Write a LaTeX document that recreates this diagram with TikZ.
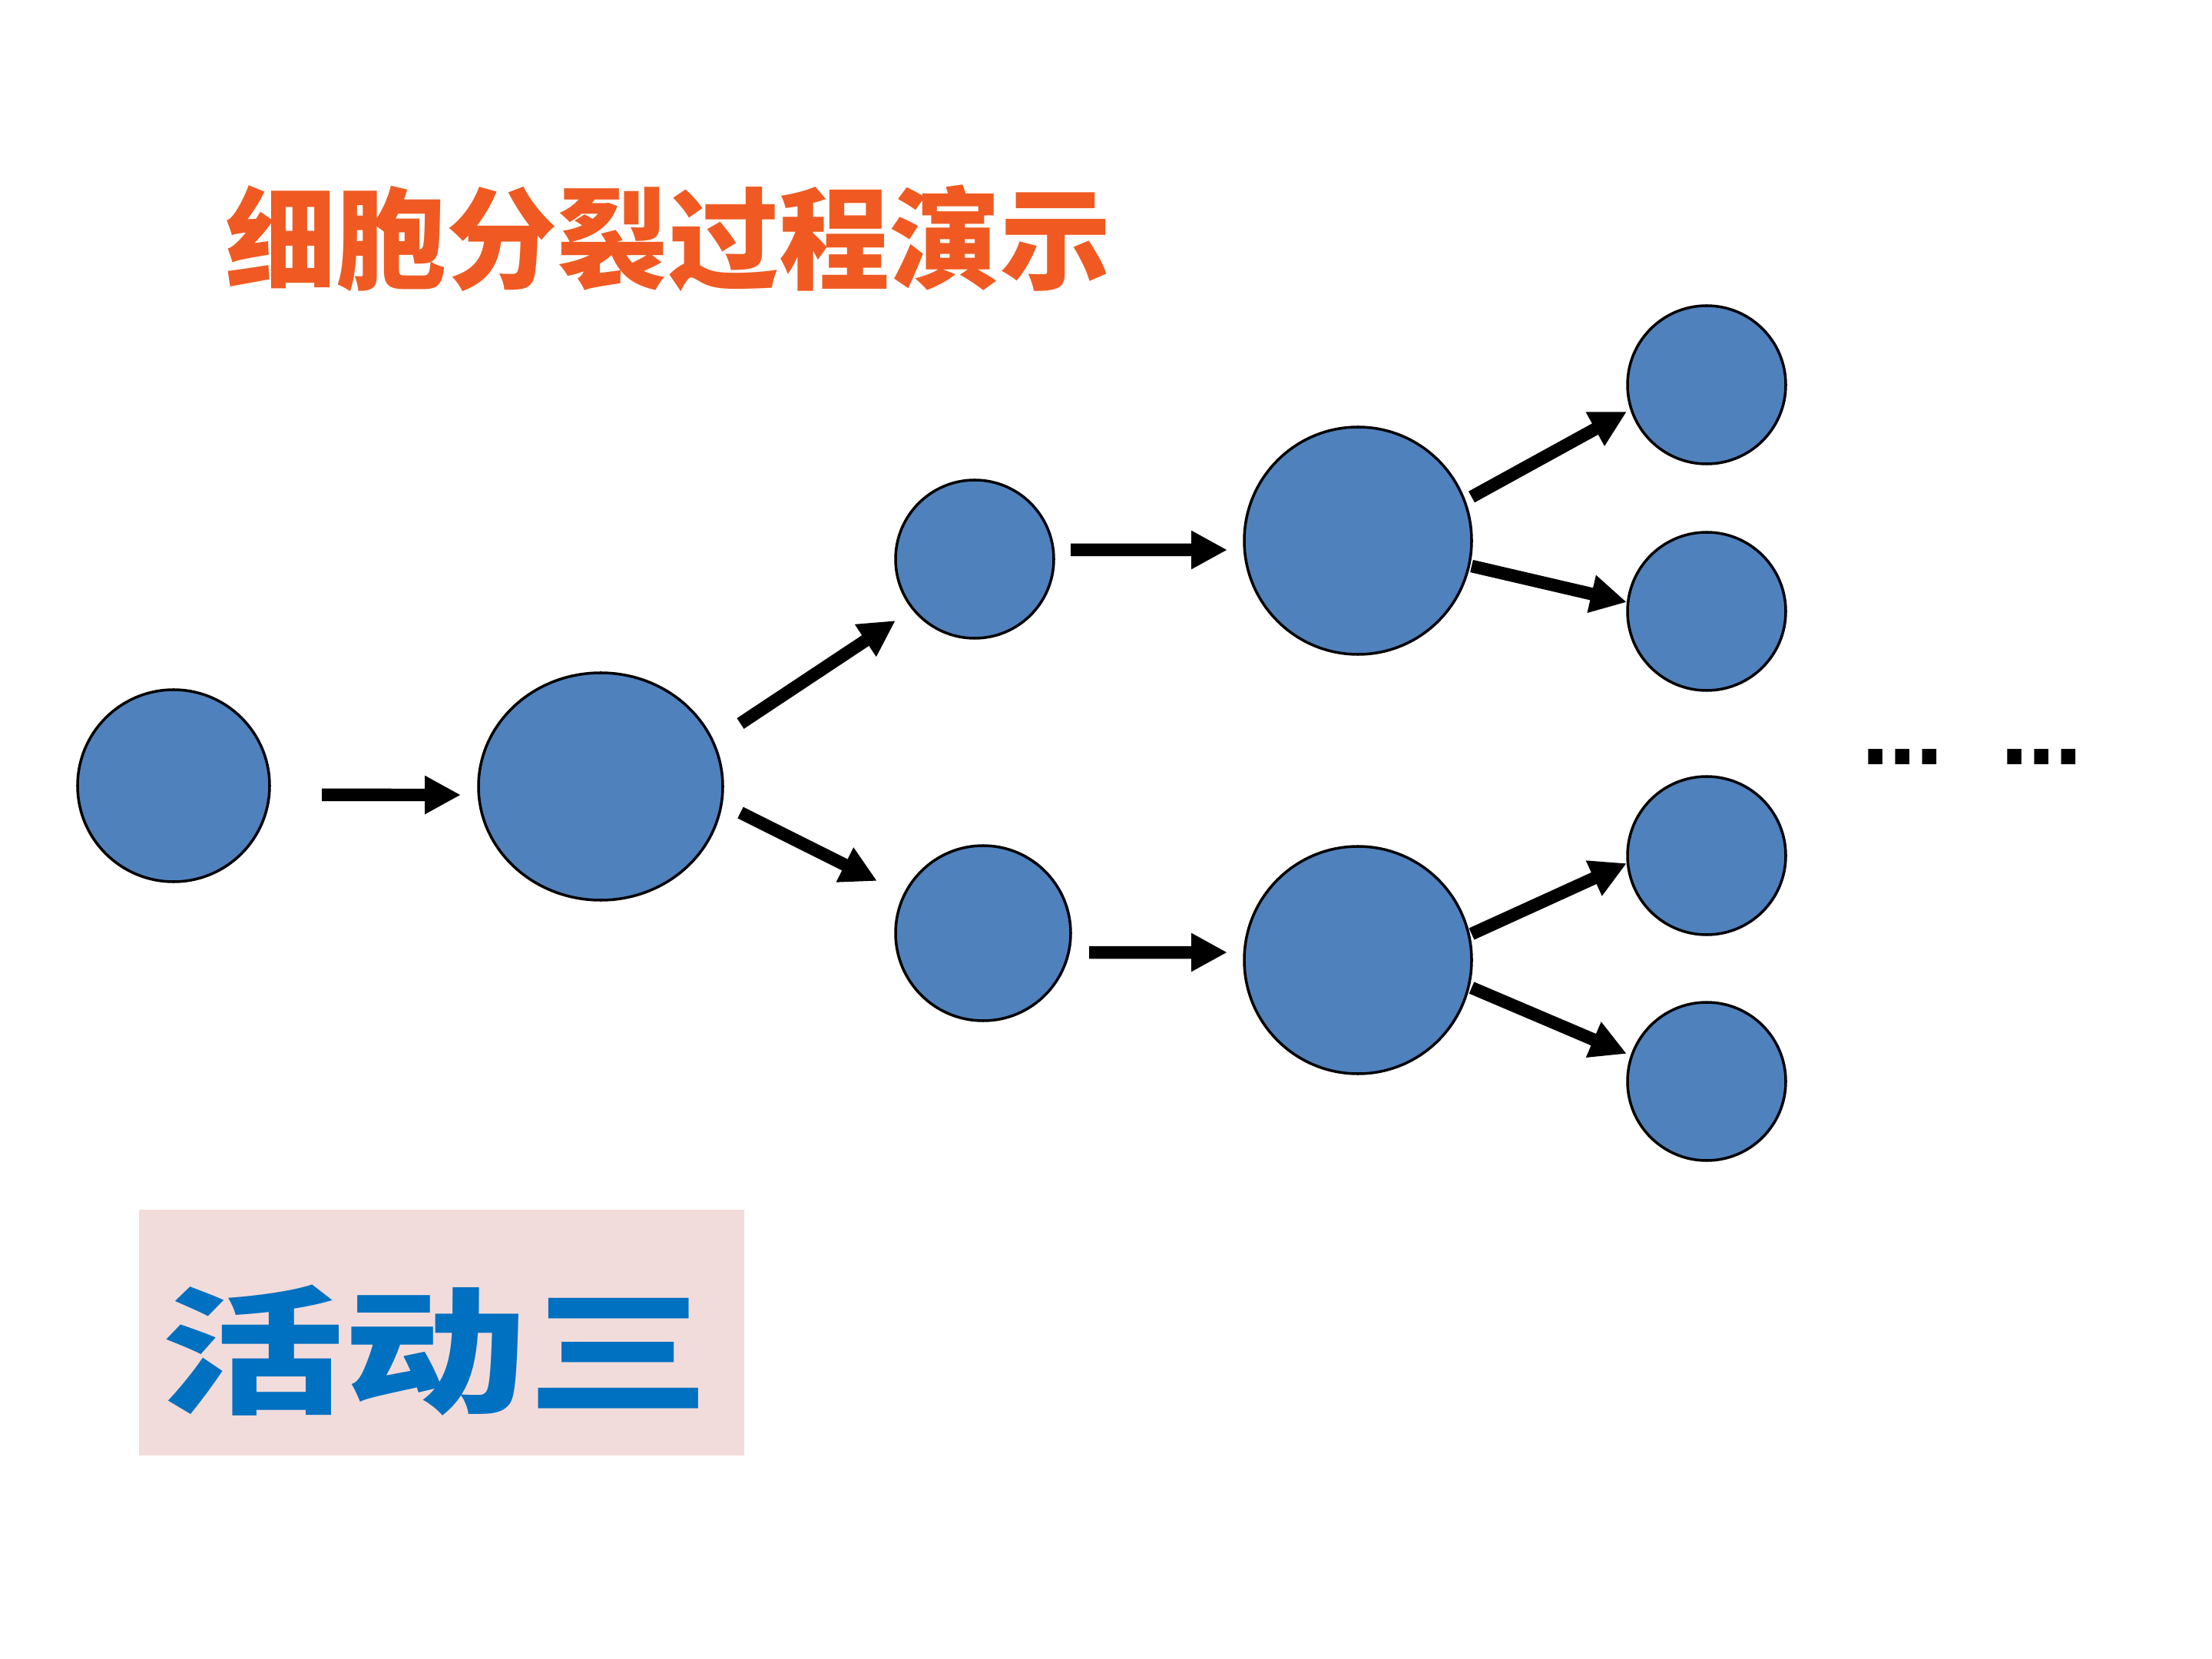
\documentclass[tikz,border=0pt]{standalone}
\usepackage{fontspec}
\newfontfamily\cjk{Noto Sans CJK SC}
\newfontfamily\dejavu{DejaVu Sans}
\usetikzlibrary{arrows.meta,shapes.geometric}
\definecolor{cellblue}{RGB}{79,129,189}
\definecolor{titleorange}{RGB}{240,90,34}
\definecolor{boxpink}{RGB}{242,220,219}
\definecolor{actblue}{RGB}{0,112,192}
\tikzset{
  cell/.style={circle, draw=black, line width=1pt, fill=cellblue, inner sep=0pt},
  arr/.style={line width=0.165cm, -{Triangle[length=0.47cm,width=0.47cm]}},
  dotstext/.style={font=\dejavu\bfseries\fontsize{30}{30}\selectfont, inner sep=0pt, anchor=base}
}
\begin{document}
\begin{tikzpicture}
\useasboundingbox (0,0) rectangle (28.8,-21.6);
\fill[white] (0,0) rectangle (28.8,-21.6);

% title
\node (title) at (8.70,-3.10) [text=titleorange, font=\cjk\bfseries\fontsize{41}{41}\selectfont, inner sep=0pt] {细胞分裂过程演示};

% cells
\node[cell, minimum size=2.50cm] (A) at (2.26,-10.23) {};
\node[ellipse, draw=black, line width=1pt, fill=cellblue, inner sep=0pt, minimum width=3.18cm, minimum height=2.96cm] (B) at (7.82,-10.24) {};
\node[cell, minimum size=2.06cm] (C) at (12.69,-7.28) {};
\node[cell, minimum size=2.28cm] (D) at (12.80,-12.15) {};
\node[cell, minimum size=2.96cm] (E) at (17.68,-7.04) {};
\node[cell, minimum size=2.96cm] (F) at (17.68,-12.50) {};
\node[cell, minimum size=2.06cm] (R1) at (22.22,-5.01) {};
\node[cell, minimum size=2.06cm] (R2) at (22.22,-7.96) {};
\node[cell, minimum size=2.06cm] (R3) at (22.22,-11.14) {};
\node[cell, minimum size=2.06cm] (R4) at (22.22,-14.08) {};

% arrows
\draw[arr] ([shift={(1.93,-0.12)}]A.center) -- ([shift={(-1.82,-0.11)}]B.center);
\draw[arr] ([shift={(1.82,0.82)}]B.center) -- ([shift={(-1.03,-0.80)}]C.center);
\draw[arr] ([shift={(1.82,-0.34)}]B.center) -- ([shift={(-1.38,0.68)}]D.center);
\draw[arr] ([shift={(1.25,0.12)}]C.center) -- ([shift={(-1.70,-0.12)}]E.center);
\draw[arr] ([shift={(1.38,-0.25)}]D.center) -- ([shift={(-1.70,0.10)}]F.center);
\draw[arr] ([shift={(1.48,0.57)}]E.center) -- ([shift={(-1.04,-0.35)}]R1.center);
\draw[arr] ([shift={(1.48,-0.33)}]E.center) -- ([shift={(-1.04,0.12)}]R2.center);
\draw[arr] ([shift={(1.48,0.34)}]F.center) -- ([shift={(-1.04,-0.10)}]R3.center);
\draw[arr] ([shift={(1.48,-0.36)}]F.center) -- ([shift={(-1.04,0.36)}]R4.center);

% ellipses (continuation)
\node[dotstext] (dots1) at (24.77,-9.95) {…};
\node[dotstext] (dots2) at (26.58,-9.95) {…};

% activity box
\node[fill=boxpink, minimum width=7.88cm, minimum height=3.20cm, inner sep=0pt, anchor=north west] (box) at (1.80,-15.74) {};
\node[text=actblue, font=\cjk\bfseries\fontsize{51}{51}\selectfont, inner sep=0pt, xscale=1.33] (act) at (5.67,-17.58) {活动三};
\end{tikzpicture}
\end{document}
